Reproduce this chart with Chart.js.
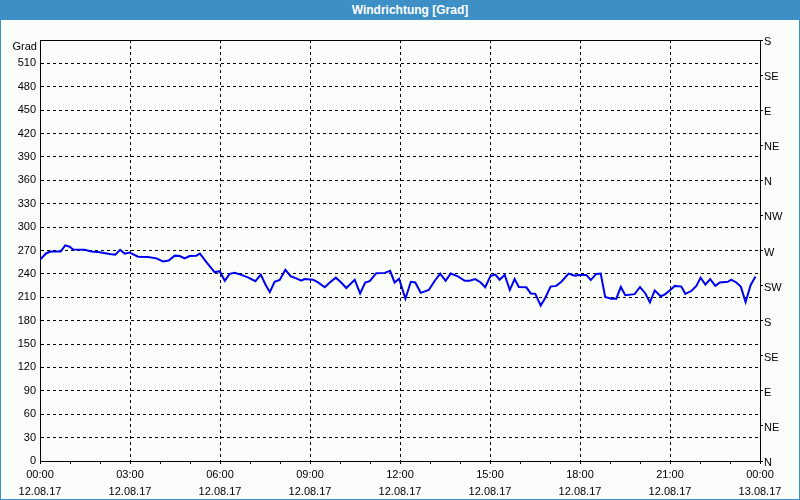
<!DOCTYPE html>
<html><head><meta charset="utf-8">
<script src="https://cdn.jsdelivr.net/npm/chart.js@4.4.1/dist/chart.umd.min.js"></script>
<style>
html,body{margin:0;padding:0;background:#fbfdfb;}
#wrap{position:relative;width:800px;height:500px;background:#fbfdfb;overflow:hidden;}
#title{position:absolute;left:0;top:0;width:800px;height:20px;background:#3d8fc5;color:#fff;font:bold 12px "Liberation Sans",Arial,sans-serif;line-height:20px;text-align:center;padding-left:20px;box-sizing:border-box;}
#frame{position:absolute;left:0;top:0;width:800px;height:500px;box-sizing:border-box;border:1px solid #3d8fc5;pointer-events:none;}
#grad{position:absolute;left:0;top:39px;width:37px;text-align:right;font:11px "Liberation Sans",Arial,sans-serif;line-height:14px;color:#000;}
canvas{position:absolute;left:0;top:0;}
</style>
</head><body>
<div id="wrap">
<canvas id="c" width="800" height="500"></canvas>
<div id="title">Windrichtung [Grad]</div>
<div id="grad">Grad</div>
<div id="frame"></div>
</div>
<script>
// time in hours after 12.08.17 00:00
const times = [0.02,0.21,0.36,0.69,0.84,0.99,1.1,1.49,1.71,1.99,2.32,2.51,2.67,2.82,2.99,3.27,3.6,3.88,4.1,4.29,4.49,4.66,4.82,4.99,5.21,5.33,5.54,5.82,5.99,6.16,6.32,6.49,6.71,6.93,7.18,7.36,7.51,7.66,7.82,7.99,8.18,8.36,8.54,8.71,8.82,9.1,9.27,9.49,9.66,9.86,10.04,10.21,10.49,10.67,10.84,10.99,11.21,11.49,11.67,11.82,11.97,12.18,12.36,12.51,12.69,12.96,13.16,13.34,13.52,13.69,13.93,14.16,14.32,14.51,14.69,14.84,15.02,15.18,15.32,15.49,15.66,15.82,15.96,16.21,16.36,16.51,16.69,16.84,17.02,17.21,17.38,17.62,17.82,17.99,18.21,18.36,18.54,18.69,18.84,19.04,19.21,19.36,19.51,19.82,20.0,20.18,20.33,20.49,20.69,20.82,20.99,21.16,21.38,21.51,21.71,21.88,22.02,22.18,22.34,22.51,22.66,22.93,23.04,23.21,23.36,23.52,23.69,23.85];
const degrees = [259,266.5,268.7,268.7,276.6,274.9,271.3,270.9,268.7,267.8,265.6,264.7,270.9,266,267.4,262,261.6,259.9,255.9,257.2,263.4,262.9,259.9,262.9,263.4,266,255.4,242.2,243.5,231.2,240,241.3,238.7,235.6,230.7,239.1,226.8,216.6,229.9,232.1,245.3,236.9,234.3,231.2,233.4,232.5,229,222.8,229,235.2,229,221.9,232.5,214.9,229,230.7,240.9,241.3,244,229,233.8,208.2,229.9,229,215.7,219.3,231.2,240.4,231.2,240.4,236.9,231.2,231.2,233.4,229,222.8,237.4,239.1,232.5,238.7,219.3,233.4,223.2,222.8,214.9,214.4,199.4,209.1,223.7,224.6,229.9,240.4,237.8,238.7,238.7,232.1,240,240.4,210.4,208.2,208.2,223.2,212.7,214,223.2,214.9,203.4,218.8,211.3,213.5,218.8,224.6,223.7,214.4,218,224.6,235.2,226.3,233.4,224.6,229,229.9,232.5,229,223.7,203.8,225.9,236.5];
const hourLabels = ['00:00','03:00','06:00','09:00','12:00','15:00','18:00','21:00','00:00'];
const dateLabels = ['12.08.17','12.08.17','12.08.17','12.08.17','12.08.17','12.08.17','12.08.17','12.08.17','13.08.17'];
const compassLabels = ['N','NE','E','SE','S','SW','W','NW','N','NE','E','SE','S'];

const FONT = {family:'"Liberation Sans", Arial, sans-serif', size:11};
const points = times.map((t,i)=>({x:t,y:degrees[i]}));

new Chart(document.getElementById('c'), {
  type:'line',
  data:{datasets:[{data:points,borderColor:'#0000f0',borderWidth:2,pointRadius:0,tension:0,fill:false,xAxisID:'x',yAxisID:'y'}]},
  options:{
    responsive:false,animation:false,
    layout:{padding:{top:40,left:0,right:0,bottom:0}},
    plugins:{legend:{display:false},tooltip:{enabled:false}},
    scales:{
      x:{type:'linear',position:'bottom',min:0,max:24,
        ticks:{stepSize:1,autoSkip:false,maxRotation:0,color:'#000',font:{...FONT,lineHeight:1.6},padding:2,
          callback:v=> (v%3===0)?[hourLabels[v/3],dateLabels[v/3]]:''},
        grid:{color:c=>(c.tick && c.tick.value%3===0 && c.tick.value>0 && c.tick.value<24)?'#000':'rgba(0,0,0,0)',
          tickColor:'#000',tickLength:3,lineWidth:1},
        border:{color:'#000',width:1,dash:[3,3]},
        afterFit:s=>{s.height=39;}
      },
      xTop:{type:'linear',position:'top',min:0,max:24,
        ticks:{display:false},grid:{drawOnChartArea:false,drawTicks:false},
        border:{color:'#000',width:1},
        afterFit:s=>{s.height=0;}
      },
      y:{type:'linear',position:'left',min:0,max:540,
        ticks:{stepSize:30,color:'#000',font:FONT,padding:4,callback:v=> v===540?'':String(v)},
        grid:{color:c=>(c.tick && c.tick.value>0 && c.tick.value<540)?'#000':'rgba(0,0,0,0)',drawTicks:false,lineWidth:1},
        border:{color:'#000',width:1,dash:[3,3]},
        afterFit:s=>{s.width=40;}
      },
      y2:{type:'linear',position:'right',min:0,max:540,
        ticks:{stepSize:45,color:'#000',font:FONT,padding:1,labelOffset:2,callback:v=>compassLabels[Math.round(v/45)]},
        grid:{drawOnChartArea:false,tickColor:'#000',tickLength:3},
        border:{color:'#000',width:1},
        afterFit:s=>{s.width=40;}
      }
    }
  }
});
</script>
</body></html>
